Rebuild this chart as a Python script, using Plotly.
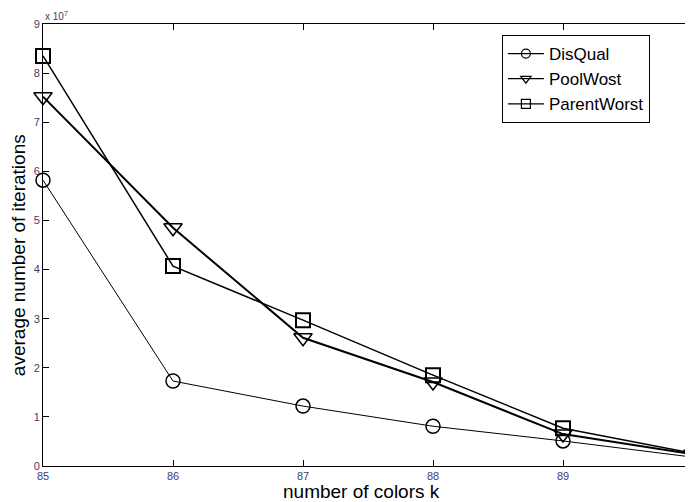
import plotly.graph_objects as go

k_values = [85, 86, 87, 88, 89, 90]
disqual = [5.82e7, 1.73e7, 1.22e7, 0.81e7, 0.51e7, 0.18e7]
poolwost = [7.52e7, 4.85e7, 2.61e7, 1.71e7, 0.65e7, 0.24e7]
parentworst = [8.35e7, 4.07e7, 2.97e7, 1.85e7, 0.77e7, 0.26e7]
y_tick_vals = [i * 1e7 for i in range(10)]
y_tick_text = [str(i) for i in range(10)]

series = [
    ("DisQual", disqual, "circle-open", 14, 1.0, 1.5),
    ("PoolWost", poolwost, "triangle-down-open", 16, 2.0, 1.5),
    ("ParentWorst", parentworst, "square-open", 14, 1.5, 2.0),
]

fig = go.Figure()
for name, vals, sym, size, lw, mlw in series:
    fig.add_trace(go.Scatter(x=k_values, y=vals, name=name, mode="lines+markers", showlegend=False,
                             line=dict(color="black", width=lw), cliponaxis=False,
                             marker=dict(symbol=sym, size=size, color="black", line=dict(width=mlw))))
for name, vals, sym, size, lw, mlw in series:
    fig.add_trace(go.Scatter(x=[None], y=[None], name=name, mode="lines+markers", showlegend=True,
                             line=dict(color="black", width=1.2),
                             marker=dict(symbol=sym, size=9, color="black", line=dict(width=1.2))))

# Browser body has an 8px margin; the figure is sized so the plot area lands where the reference has it.
tick_font = dict(family="Liberation Sans Narrow, Arial Narrow, Liberation Sans, Arial", size=11, color="#4a3a6a")
title_font = dict(family="Liberation Sans, Arial", size=19, color="black")
fig.update_layout(
    width=685, height=494,
    margin=dict(l=35, r=0, t=16, b=36, autoexpand=False),
    plot_bgcolor="white", paper_bgcolor="white",
    showlegend=True,
    legend=dict(x=0.706, y=0.975, xanchor="left", yanchor="top",
                bordercolor="black", borderwidth=1, bgcolor="white",
                font=dict(family="Liberation Sans, Arial", size=17, color="black"),
                tracegroupgap=0, itemwidth=36),
    xaxis=dict(range=[85, 90], tickvals=k_values, ticks="inside", ticklen=6, tickcolor="black",
               showline=True, linecolor="black", linewidth=1, mirror="ticks", showgrid=False,
               zeroline=False, tickfont=tick_font, automargin=False),
    yaxis=dict(range=[0, 9e7], tickvals=y_tick_vals, ticktext=y_tick_text, ticks="inside", ticklen=6,
               tickcolor="black", showline=True, linecolor="black", linewidth=1, mirror="ticks",
               showgrid=False, zeroline=False, tickfont=tick_font, automargin=False),
    annotations=[
        dict(x=0, y=1, xref="paper", yref="paper", xanchor="left", yanchor="bottom",
             text="x 10<sup>7</sup>", showarrow=False,
             font=dict(family="Liberation Sans, Arial", size=10, color="#4a3a6a")),
        dict(x=0.49, y=-0.029, xref="paper", yref="paper", xanchor="center", yanchor="top",
             text="number of colors k", showarrow=False, font=title_font),
        dict(x=-0.0385, y=0.477, xref="paper", yref="paper", xanchor="center", yanchor="middle",
             text="average number of iterations", showarrow=False, font=title_font, textangle=-90),
    ],
)

fig.write_html("out.html")
